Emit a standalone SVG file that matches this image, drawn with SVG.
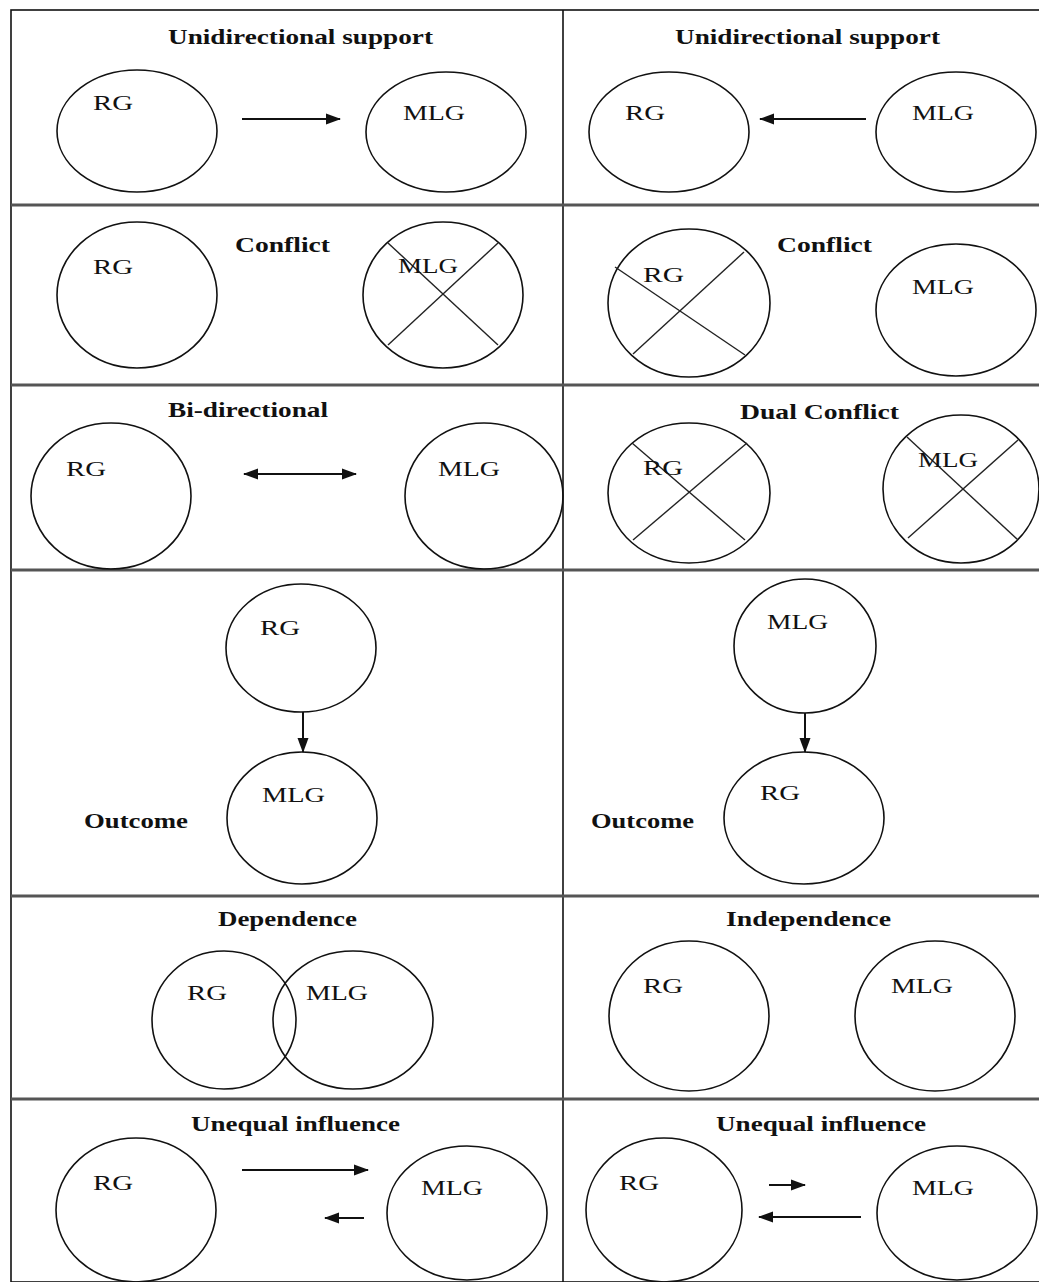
<svg xmlns="http://www.w3.org/2000/svg" width="1039" height="1282" viewBox="0 0 1039 1282">
  <style>
    .frame { fill: none; stroke: #111; stroke-width: 1.6; }
    .rule { stroke: #555; stroke-width: 3; }
    .node { fill: none; stroke: #111; stroke-width: 1.6; }
    .cross { stroke: #222; stroke-width: 1.4; }
    .title { font-family: "Liberation Serif", "Times New Roman", serif; font-weight: bold; font-size: 22px; fill: #111; }
    .label { font-family: "Liberation Serif", "Times New Roman", serif; font-size: 22px; fill: #111; }
    .link { stroke: #111; stroke-width: 2; fill: none; }
  </style>
  <defs>
    <marker id="head" markerWidth="15" markerHeight="12" refX="14" refY="6" orient="auto" markerUnits="userSpaceOnUse">
      <path d="M0,0.5 L15,6 L0,11.5 Z" fill="#111"/>
    </marker>
    <marker id="tail" markerWidth="15" markerHeight="12" refX="1" refY="6" orient="auto" markerUnits="userSpaceOnUse">
      <path d="M15,0.5 L0,6 L15,11.5 Z" fill="#111"/>
    </marker>
  </defs>

  <rect x="0" y="0" width="1039" height="1282" fill="#fff"/>

  <!-- table frame and cell rules -->
  <g id="grid">
    <rect class="frame" x="11" y="10" width="1040" height="1272"/>
    <line class="frame" x1="563" y1="10" x2="563" y2="1282"/>
    <line class="rule" x1="11" y1="205" x2="1039" y2="205"/>
    <line class="rule" x1="11" y1="385" x2="1039" y2="385"/>
    <line class="rule" x1="11" y1="570" x2="1039" y2="570"/>
    <line class="rule" x1="11" y1="896" x2="1039" y2="896"/>
    <line class="rule" x1="11" y1="1099" x2="1039" y2="1099"/>
  </g>

  <!-- cell titles -->
  <g id="titles">
    <text class="title" x="168" y="44" textLength="265" lengthAdjust="spacingAndGlyphs">Unidirectional support</text>
    <text class="title" x="675" y="44" textLength="265" lengthAdjust="spacingAndGlyphs">Unidirectional support</text>
    <text class="title" x="235" y="252" textLength="95" lengthAdjust="spacingAndGlyphs">Conflict</text>
    <text class="title" x="777" y="252" textLength="95" lengthAdjust="spacingAndGlyphs">Conflict</text>
    <text class="title" x="168" y="417" textLength="160" lengthAdjust="spacingAndGlyphs">Bi-directional</text>
    <text class="title" x="740" y="419" textLength="159" lengthAdjust="spacingAndGlyphs">Dual Conflict</text>
    <text class="title" x="84" y="828" textLength="104" lengthAdjust="spacingAndGlyphs">Outcome</text>
    <text class="title" x="591" y="828" textLength="103" lengthAdjust="spacingAndGlyphs">Outcome</text>
    <text class="title" x="218" y="926" textLength="139" lengthAdjust="spacingAndGlyphs">Dependence</text>
    <text class="title" x="726" y="926" textLength="165" lengthAdjust="spacingAndGlyphs">Independence</text>
    <text class="title" x="191" y="1131" textLength="209" lengthAdjust="spacingAndGlyphs">Unequal influence</text>
    <text class="title" x="716" y="1131" textLength="210" lengthAdjust="spacingAndGlyphs">Unequal influence</text>
  </g>

  <!-- row 1: unidirectional support -->
  <g id="r1-left-rg"><ellipse class="node" cx="137" cy="131" rx="80" ry="61"/><text class="label" x="93" y="110" textLength="40" lengthAdjust="spacingAndGlyphs">RG</text></g>
  <g id="r1-left-mlg"><ellipse class="node" cx="446" cy="132" rx="80" ry="60"/><text class="label" x="403" y="120" textLength="62" lengthAdjust="spacingAndGlyphs">MLG</text></g>
  <g id="r1-right-rg"><ellipse class="node" cx="669" cy="132" rx="80" ry="60"/><text class="label" x="625" y="120" textLength="40" lengthAdjust="spacingAndGlyphs">RG</text></g>
  <g id="r1-right-mlg"><ellipse class="node" cx="956" cy="132" rx="80" ry="60"/><text class="label" x="912" y="120" textLength="62" lengthAdjust="spacingAndGlyphs">MLG</text></g>

  <!-- row 2: conflict -->
  <g id="r2-left-rg"><ellipse class="node" cx="137" cy="295" rx="80" ry="73"/><text class="label" x="93" y="274" textLength="40" lengthAdjust="spacingAndGlyphs">RG</text></g>
  <g id="r2-left-mlg">
    <ellipse class="node" cx="443" cy="295" rx="80" ry="73"/>
    <line class="cross" x1="388" y1="243" x2="498" y2="345"/>
    <line class="cross" x1="498" y1="243" x2="388" y2="345"/>
    <text class="label" x="398" y="273" textLength="60" lengthAdjust="spacingAndGlyphs">MLG</text>
  </g>
  <g id="r2-right-rg">
    <ellipse class="node" cx="689" cy="303" rx="81" ry="74"/>
    <line class="cross" x1="615" y1="267" x2="745" y2="355"/>
    <line class="cross" x1="744" y1="252" x2="633" y2="354"/>
    <text class="label" x="643" y="282" textLength="41" lengthAdjust="spacingAndGlyphs">RG</text>
  </g>
  <g id="r2-right-mlg"><ellipse class="node" cx="956" cy="310" rx="80" ry="66"/><text class="label" x="912" y="294" textLength="62" lengthAdjust="spacingAndGlyphs">MLG</text></g>

  <!-- row 3: bi-directional / dual conflict -->
  <g id="r3-left-rg"><ellipse class="node" cx="111" cy="496" rx="80" ry="73"/><text class="label" x="66" y="476" textLength="40" lengthAdjust="spacingAndGlyphs">RG</text></g>
  <g id="r3-left-mlg"><ellipse class="node" cx="484" cy="496" rx="79" ry="73"/><text class="label" x="438" y="476" textLength="62" lengthAdjust="spacingAndGlyphs">MLG</text></g>
  <g id="r3-right-rg">
    <ellipse class="node" cx="689" cy="493" rx="81" ry="70"/>
    <line class="cross" x1="632" y1="443" x2="745" y2="540"/>
    <line class="cross" x1="747" y1="443" x2="633" y2="540"/>
    <text class="label" x="643" y="475" textLength="40" lengthAdjust="spacingAndGlyphs">RG</text>
  </g>
  <g id="r3-right-mlg">
    <ellipse class="node" cx="961" cy="489" rx="78" ry="74"/>
    <line class="cross" x1="907" y1="437" x2="1018" y2="540"/>
    <line class="cross" x1="1018" y1="440" x2="908" y2="538"/>
    <text class="label" x="918" y="467" textLength="60" lengthAdjust="spacingAndGlyphs">MLG</text>
  </g>

  <!-- row 4: outcome -->
  <g id="r4-left-rg"><ellipse class="node" cx="301" cy="648" rx="75" ry="64"/><text class="label" x="260" y="635" textLength="40" lengthAdjust="spacingAndGlyphs">RG</text></g>
  <g id="r4-left-mlg"><ellipse class="node" cx="302" cy="818" rx="75" ry="66"/><text class="label" x="262" y="802" textLength="63" lengthAdjust="spacingAndGlyphs">MLG</text></g>
  <g id="r4-right-mlg"><ellipse class="node" cx="805" cy="646" rx="71" ry="67"/><text class="label" x="767" y="629" textLength="61" lengthAdjust="spacingAndGlyphs">MLG</text></g>
  <g id="r4-right-rg"><ellipse class="node" cx="804" cy="818" rx="80" ry="66"/><text class="label" x="760" y="800" textLength="40" lengthAdjust="spacingAndGlyphs">RG</text></g>

  <!-- row 5: dependence / independence -->
  <g id="r5-left-rg"><ellipse class="node" cx="224" cy="1020" rx="72" ry="69"/><text class="label" x="187" y="1000" textLength="40" lengthAdjust="spacingAndGlyphs">RG</text></g>
  <g id="r5-left-mlg"><ellipse class="node" cx="353" cy="1020" rx="80" ry="69"/><text class="label" x="306" y="1000" textLength="62" lengthAdjust="spacingAndGlyphs">MLG</text></g>
  <g id="r5-right-rg"><ellipse class="node" cx="689" cy="1016" rx="80" ry="75"/><text class="label" x="643" y="993" textLength="40" lengthAdjust="spacingAndGlyphs">RG</text></g>
  <g id="r5-right-mlg"><ellipse class="node" cx="935" cy="1016" rx="80" ry="75"/><text class="label" x="891" y="993" textLength="62" lengthAdjust="spacingAndGlyphs">MLG</text></g>

  <!-- row 6: unequal influence -->
  <g id="r6-left-rg"><ellipse class="node" cx="136" cy="1210" rx="80" ry="72"/><text class="label" x="93" y="1190" textLength="40" lengthAdjust="spacingAndGlyphs">RG</text></g>
  <g id="r6-left-mlg"><ellipse class="node" cx="467" cy="1213" rx="80" ry="67"/><text class="label" x="421" y="1195" textLength="62" lengthAdjust="spacingAndGlyphs">MLG</text></g>
  <g id="r6-right-rg"><ellipse class="node" cx="664" cy="1210" rx="78" ry="72"/><text class="label" x="619" y="1190" textLength="40" lengthAdjust="spacingAndGlyphs">RG</text></g>
  <g id="r6-right-mlg"><ellipse class="node" cx="957" cy="1213" rx="80" ry="67"/><text class="label" x="912" y="1195" textLength="62" lengthAdjust="spacingAndGlyphs">MLG</text></g>

  <!-- arrows -->
  <g id="connectors">
    <line class="link" x1="242" y1="119" x2="340" y2="119" marker-end="url(#head)"/>
    <line class="link" x1="866" y1="119" x2="760" y2="119" marker-end="url(#head)"/>
    <line class="link" x1="244" y1="474" x2="356" y2="474" marker-start="url(#tail)" marker-end="url(#head)"/>
    <line class="link" x1="303" y1="712" x2="303" y2="752" marker-end="url(#head)"/>
    <line class="link" x1="805" y1="713" x2="805" y2="752" marker-end="url(#head)"/>
    <line class="link" x1="242" y1="1170" x2="368" y2="1170" marker-end="url(#head)"/>
    <line class="link" x1="364" y1="1218" x2="325" y2="1218" marker-end="url(#head)"/>
    <line class="link" x1="769" y1="1185" x2="805" y2="1185" marker-end="url(#head)"/>
    <line class="link" x1="861" y1="1217" x2="759" y2="1217" marker-end="url(#head)"/>
  </g>
</svg>
